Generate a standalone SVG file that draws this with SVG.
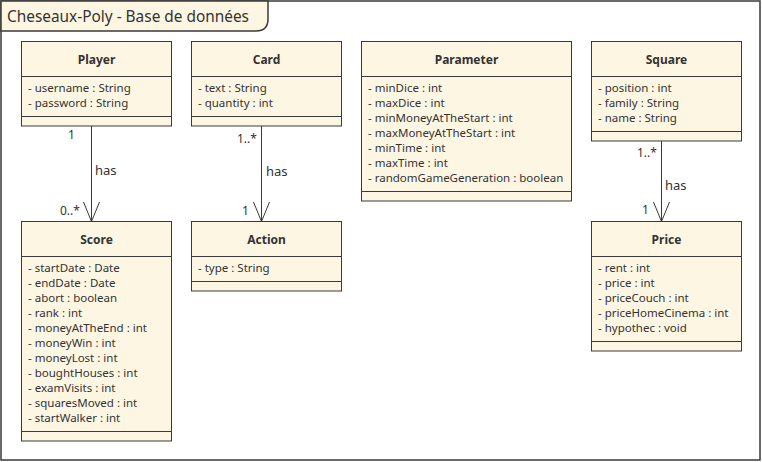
<svg xmlns="http://www.w3.org/2000/svg" width="762" height="462" viewBox="0 0 762 462">
<style>
.box{fill:#FDF6E3;stroke:#3A3A3A;stroke-width:1}
.ln{stroke:#3A3A3A;stroke-width:1;fill:none}
.nm{font-family:"Noto Sans",sans-serif;font-size:12px;font-weight:bold;fill:#333;text-anchor:middle}
.at{font-family:"Noto Sans",sans-serif;font-size:11.5px;fill:#333}
.lb{font-family:"Noto Sans",sans-serif;font-size:13px;fill:#333}
.ml{font-family:"Noto Sans",sans-serif;font-size:12px;fill:#333}
.ttl{font-family:"Noto Sans",sans-serif;font-size:15.4px;fill:#333}
</style>
<rect x="0" y="0" width="762" height="462" fill="#FFFFFF"/>
<g id="frame">
<rect x="1" y="1" width="759" height="459" fill="none" stroke="#3A3A3A" stroke-width="1.5"/>
<path d="M1,1 L268,1 L268,19 Q268,31 256,31 L1,31 Z" fill="#FDF6E3" stroke="#3A3A3A" stroke-width="1.5"/>
<text class="ttl" x="7" y="22">Cheseaux-Poly - Base de données</text>
</g>
<g id="connectors">
<line class="ln" x1="91.5" y1="126" x2="91.5" y2="221.5"/>
<polyline class="ln" points="83.5,202 91.5,221.5 99.5,202"/>
<text class="ml" x="68" y="139">1</text>
<text class="lb" x="95" y="175">has</text>
<text class="ml" x="60" y="215">0..*</text>
<line class="ln" x1="261.5" y1="126" x2="261.5" y2="221.5"/>
<polyline class="ln" points="253.5,202 261.5,221.5 269.5,202"/>
<text class="ml" x="237" y="143">1..*</text>
<text class="lb" x="266" y="176">has</text>
<text class="ml" x="242" y="215">1</text>
<line class="ln" x1="661.5" y1="141" x2="661.5" y2="221.5"/>
<polyline class="ln" points="653.5,202 661.5,221.5 669.5,202"/>
<text class="ml" x="637" y="157">1..*</text>
<text class="lb" x="665" y="190">has</text>
<text class="ml" x="642" y="214">1</text>
</g>
<g id="Player">
<rect class="box" x="21.5" y="41.5" width="150" height="84.5"/>
<line class="ln" x1="21.5" y1="76.5" x2="171.5" y2="76.5"/>
<line class="ln" x1="21.5" y1="116.5" x2="171.5" y2="116.5"/>
<text class="nm" x="96.5" y="63.5">Player</text>
<text class="at" x="28" y="92">- username : String</text>
<text class="at" x="28" y="107">- password : String</text>
</g>
<g id="Card">
<rect class="box" x="191.5" y="41.5" width="150" height="84.5"/>
<line class="ln" x1="191.5" y1="76.5" x2="341.5" y2="76.5"/>
<line class="ln" x1="191.5" y1="116.5" x2="341.5" y2="116.5"/>
<text class="nm" x="266.5" y="63.5">Card</text>
<text class="at" x="198" y="92">- text : String</text>
<text class="at" x="198" y="107">- quantity : int</text>
</g>
<g id="Parameter">
<rect class="box" x="361.5" y="41.5" width="210" height="159.5"/>
<line class="ln" x1="361.5" y1="76.5" x2="571.5" y2="76.5"/>
<line class="ln" x1="361.5" y1="191.5" x2="571.5" y2="191.5"/>
<text class="nm" x="466.5" y="63.5">Parameter</text>
<text class="at" x="368" y="92">- minDice : int</text>
<text class="at" x="368" y="107">- maxDice : int</text>
<text class="at" x="368" y="122">- minMoneyAtTheStart : int</text>
<text class="at" x="368" y="137">- maxMoneyAtTheStart : int</text>
<text class="at" x="368" y="152">- minTime : int</text>
<text class="at" x="368" y="167">- maxTime : int</text>
<text class="at" x="368" y="182">- randomGameGeneration : boolean</text>
</g>
<g id="Square">
<rect class="box" x="591.5" y="41.5" width="150" height="99.5"/>
<line class="ln" x1="591.5" y1="76.5" x2="741.5" y2="76.5"/>
<line class="ln" x1="591.5" y1="131.5" x2="741.5" y2="131.5"/>
<text class="nm" x="666.5" y="63.5">Square</text>
<text class="at" x="598" y="92">- position : int</text>
<text class="at" x="598" y="107">- family : String</text>
<text class="at" x="598" y="122">- name : String</text>
</g>
<g id="Score">
<rect class="box" x="21.5" y="221.5" width="150" height="219.5"/>
<line class="ln" x1="21.5" y1="256.5" x2="171.5" y2="256.5"/>
<line class="ln" x1="21.5" y1="431.5" x2="171.5" y2="431.5"/>
<text class="nm" x="96.5" y="243.5">Score</text>
<text class="at" x="28" y="272">- startDate : Date</text>
<text class="at" x="28" y="287">- endDate : Date</text>
<text class="at" x="28" y="302">- abort : boolean</text>
<text class="at" x="28" y="317">- rank : int</text>
<text class="at" x="28" y="332">- moneyAtTheEnd : int</text>
<text class="at" x="28" y="347">- moneyWin : int</text>
<text class="at" x="28" y="362">- moneyLost : int</text>
<text class="at" x="28" y="377">- boughtHouses : int</text>
<text class="at" x="28" y="392">- examVisits : int</text>
<text class="at" x="28" y="407">- squaresMoved : int</text>
<text class="at" x="28" y="422">- startWalker : int</text>
</g>
<g id="Action">
<rect class="box" x="191.5" y="221.5" width="150" height="69.5"/>
<line class="ln" x1="191.5" y1="256.5" x2="341.5" y2="256.5"/>
<line class="ln" x1="191.5" y1="281.5" x2="341.5" y2="281.5"/>
<text class="nm" x="266.5" y="243.5">Action</text>
<text class="at" x="198" y="272">- type : String</text>
</g>
<g id="Price">
<rect class="box" x="591.5" y="221.5" width="150" height="129.5"/>
<line class="ln" x1="591.5" y1="256.5" x2="741.5" y2="256.5"/>
<line class="ln" x1="591.5" y1="341.5" x2="741.5" y2="341.5"/>
<text class="nm" x="666.5" y="243.5">Price</text>
<text class="at" x="598" y="272">- rent : int</text>
<text class="at" x="598" y="287">- price : int</text>
<text class="at" x="598" y="302">- priceCouch : int</text>
<text class="at" x="598" y="317">- priceHomeCinema : int</text>
<text class="at" x="598" y="332">- hypothec : void</text>
</g>
</svg>
